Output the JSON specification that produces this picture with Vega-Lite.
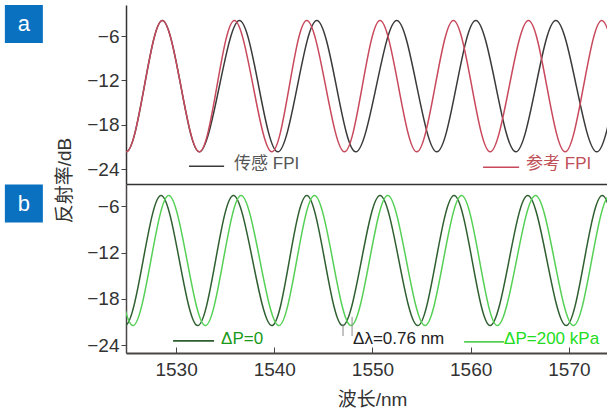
{
  "$schema": "https://vega.github.io/schema/vega-lite/v6.json",
  "padding": {"left": 4, "top": 5, "right": 0, "bottom": 0},
  "bounds": "flush",
  "spacing": 0,
  "background": "white",
  "resolve": {"scale": {"color": "independent"}},
  "config": {
    "view": {"stroke": null},
    "font": "Liberation Sans",
    "axis": {
      "grid": false,
      "labelFont": "Liberation Sans",
      "labelFontSize": 19,
      "labelColor": "#333333",
      "titleFont": "Liberation Sans, Noto Sans CJK SC",
      "titleFontSize": 19,
      "titleFontWeight": "normal",
      "titleColor": "#333333",
      "tickColor": "#444444",
      "domainColor": "#444444"
    }
  },
  "datasets": {
    "curvesA": [
      {"lam": 1523.10, "val": -12.78, "series": "sen"}, {"lam": 1524.93, "val": -21.65, "series": "sen"}, {"lam": 1526.77, "val": -12.78, "series": "sen"}, {"lam": 1528.60, "val": -3.9, "series": "sen"},
      {"lam": 1530.49, "val": -12.78, "series": "sen"}, {"lam": 1532.37, "val": -21.65, "series": "sen"}, {"lam": 1534.41, "val": -12.78, "series": "sen"}, {"lam": 1536.45, "val": -3.9, "series": "sen"},
      {"lam": 1538.41, "val": -12.78, "series": "sen"}, {"lam": 1540.36, "val": -21.65, "series": "sen"}, {"lam": 1542.35, "val": -12.78, "series": "sen"}, {"lam": 1544.33, "val": -3.9, "series": "sen"},
      {"lam": 1546.32, "val": -12.78, "series": "sen"}, {"lam": 1548.30, "val": -21.65, "series": "sen"}, {"lam": 1550.39, "val": -12.78, "series": "sen"}, {"lam": 1552.47, "val": -3.9, "series": "sen"},
      {"lam": 1554.51, "val": -12.78, "series": "sen"}, {"lam": 1556.55, "val": -21.65, "series": "sen"}, {"lam": 1558.54, "val": -12.78, "series": "sen"}, {"lam": 1560.52, "val": -3.9, "series": "sen"},
      {"lam": 1562.56, "val": -12.78, "series": "sen"}, {"lam": 1564.59, "val": -21.65, "series": "sen"}, {"lam": 1566.63, "val": -12.78, "series": "sen"}, {"lam": 1568.67, "val": -3.9, "series": "sen"},
      {"lam": 1570.76, "val": -12.78, "series": "sen"}, {"lam": 1572.84, "val": -21.65, "series": "sen"}, {"lam": 1574.82, "val": -12.78, "series": "sen"},
      {"lam": 1523.10, "val": -12.78, "series": "ref"}, {"lam": 1524.93, "val": -21.65, "series": "ref"}, {"lam": 1526.77, "val": -12.78, "series": "ref"}, {"lam": 1528.60, "val": -3.9, "series": "ref"},
      {"lam": 1530.49, "val": -12.78, "series": "ref"}, {"lam": 1532.37, "val": -21.65, "series": "ref"}, {"lam": 1534.16, "val": -12.78, "series": "ref"}, {"lam": 1535.94, "val": -3.9, "series": "ref"},
      {"lam": 1537.85, "val": -12.78, "series": "ref"}, {"lam": 1539.75, "val": -21.65, "series": "ref"}, {"lam": 1541.53, "val": -12.78, "series": "ref"}, {"lam": 1543.31, "val": -3.9, "series": "ref"},
      {"lam": 1545.23, "val": -12.78, "series": "ref"}, {"lam": 1547.14, "val": -21.65, "series": "ref"}, {"lam": 1548.96, "val": -12.78, "series": "ref"}, {"lam": 1550.77, "val": -3.9, "series": "ref"},
      {"lam": 1552.64, "val": -12.78, "series": "ref"}, {"lam": 1554.51, "val": -21.65, "series": "ref"}, {"lam": 1556.38, "val": -12.78, "series": "ref"}, {"lam": 1558.24, "val": -3.9, "series": "ref"},
      {"lam": 1560.11, "val": -12.78, "series": "ref"}, {"lam": 1561.98, "val": -21.65, "series": "ref"}, {"lam": 1563.93, "val": -12.78, "series": "ref"}, {"lam": 1565.88, "val": -3.9, "series": "ref"},
      {"lam": 1567.75, "val": -12.78, "series": "ref"}, {"lam": 1569.62, "val": -21.65, "series": "ref"}, {"lam": 1571.49, "val": -12.78, "series": "ref"}, {"lam": 1573.35, "val": -3.9, "series": "ref"},
      {"lam": 1575.22, "val": -12.78, "series": "ref"}
    ],
    "curvesB": [
      {"lam": 1523.00, "val": -13.03, "series": "p0"}, {"lam": 1524.80, "val": -21.45, "series": "p0"}, {"lam": 1526.64, "val": -13.03, "series": "p0"}, {"lam": 1528.47, "val": -4.6, "series": "p0"},
      {"lam": 1530.34, "val": -13.03, "series": "p0"}, {"lam": 1532.20, "val": -21.45, "series": "p0"}, {"lam": 1534.02, "val": -13.03, "series": "p0"}, {"lam": 1535.84, "val": -4.6, "series": "p0"},
      {"lam": 1537.80, "val": -13.03, "series": "p0"}, {"lam": 1539.75, "val": -21.45, "series": "p0"}, {"lam": 1541.53, "val": -13.03, "series": "p0"}, {"lam": 1543.31, "val": -4.6, "series": "p0"},
      {"lam": 1545.14, "val": -13.03, "series": "p0"}, {"lam": 1546.97, "val": -21.45, "series": "p0"}, {"lam": 1548.87, "val": -13.03, "series": "p0"}, {"lam": 1550.77, "val": -4.6, "series": "p0"},
      {"lam": 1552.69, "val": -13.03, "series": "p0"}, {"lam": 1554.61, "val": -21.45, "series": "p0"}, {"lam": 1556.46, "val": -13.03, "series": "p0"}, {"lam": 1558.31, "val": -4.6, "series": "p0"},
      {"lam": 1560.15, "val": -13.03, "series": "p0"}, {"lam": 1561.98, "val": -21.45, "series": "p0"}, {"lam": 1563.90, "val": -13.03, "series": "p0"}, {"lam": 1565.81, "val": -4.6, "series": "p0"},
      {"lam": 1567.77, "val": -13.03, "series": "p0"}, {"lam": 1569.72, "val": -21.45, "series": "p0"}, {"lam": 1571.56, "val": -13.03, "series": "p0"}, {"lam": 1573.40, "val": -4.6, "series": "p0"},
      {"lam": 1575.25, "val": -13.03, "series": "p0"},
      {"lam": 1523.80, "val": -13.03, "series": "p200"}, {"lam": 1525.60, "val": -21.45, "series": "p200"}, {"lam": 1527.43, "val": -13.03, "series": "p200"}, {"lam": 1529.25, "val": -4.6, "series": "p200"},
      {"lam": 1531.12, "val": -13.03, "series": "p200"}, {"lam": 1532.98, "val": -21.45, "series": "p200"}, {"lam": 1534.80, "val": -13.03, "series": "p200"}, {"lam": 1536.62, "val": -4.6, "series": "p200"},
      {"lam": 1538.54, "val": -13.03, "series": "p200"}, {"lam": 1540.46, "val": -21.45, "series": "p200"}, {"lam": 1542.28, "val": -13.03, "series": "p200"}, {"lam": 1544.09, "val": -4.6, "series": "p200"},
      {"lam": 1545.96, "val": -13.03, "series": "p200"}, {"lam": 1547.82, "val": -21.45, "series": "p200"}, {"lam": 1549.69, "val": -13.03, "series": "p200"}, {"lam": 1551.55, "val": -4.6, "series": "p200"},
      {"lam": 1553.45, "val": -13.03, "series": "p200"}, {"lam": 1555.35, "val": -21.45, "series": "p200"}, {"lam": 1557.21, "val": -13.03, "series": "p200"}, {"lam": 1559.07, "val": -4.6, "series": "p200"},
      {"lam": 1560.90, "val": -13.03, "series": "p200"}, {"lam": 1562.72, "val": -21.45, "series": "p200"}, {"lam": 1564.66, "val": -13.03, "series": "p200"}, {"lam": 1566.60, "val": -4.6, "series": "p200"},
      {"lam": 1568.53, "val": -13.03, "series": "p200"}, {"lam": 1570.46, "val": -21.45, "series": "p200"}, {"lam": 1572.31, "val": -13.03, "series": "p200"}, {"lam": 1574.16, "val": -4.6, "series": "p200"},
      {"lam": 1576.00, "val": -13.03, "series": "p200"}
    ]
  },
  "vconcat": [
    {
      "width": 481,
      "height": 179,
      "encoding": {
        "x": {"field": "lam", "type": "quantitative", "scale": {"domain": [1524.9, 1573.88], "nice": false, "zero": false},
              "axis": {"title": null, "labels": false, "ticks": false, "domain": true, "domainColor": "#333333", "domainWidth": 1.5}},
        "y": {"field": "val", "type": "quantitative", "scale": {"domain": [-26, -1.8], "nice": false, "zero": false},
              "axis": {"values": [-6, -12, -18, -24], "tickSize": 5, "labelPadding": 2, "domainColor": "#333333", "domainWidth": 1.5,
                       "title": "反射率/dB", "titleX": -62, "titleY": 175, "titleAngle": -90, "titleAlign": "center", "titleBaseline": "middle"}}
      },
      "layer": [
        {
          "data": {"name": "curvesA"},
          "mark": {"type": "line", "interpolate": "natural", "clip": true, "strokeWidth": 1.5},
          "encoding": {
            "color": {"field": "series", "type": "nominal", "scale": {"domain": ["sen", "ref"], "range": ["#3a3a3a", "#c8485c"]}, "legend": null},
            "order": {"field": "lam", "type": "quantitative"}
          }
        },
        {
          "data": {"values": [{}]},
          "mark": {"type": "rule", "color": "#333333", "strokeWidth": 1.5},
          "encoding": {"y": {"datum": -1.8}}
        },
        {
          "data": {"values": [
            {"lam": 1531.32, "lam2": 1534.89, "val": -23.59, "series": "sen"},
            {"lam": 1561.26, "lam2": 1564.93, "val": -23.72, "series": "ref"}
          ]},
          "mark": {"type": "rule", "strokeWidth": 1.5},
          "encoding": {
            "x2": {"field": "lam2"},
            "color": {"field": "series", "type": "nominal", "legend": null}
          }
        },
        {
          "data": {"values": [{"lam": 1535.91, "val": -23.3, "label": "传感 FPI"}]},
          "mark": {"type": "text", "align": "left", "baseline": "middle", "fontSize": 17, "font": "Liberation Sans, Noto Sans CJK SC", "color": "#555555"},
          "encoding": {"text": {"field": "label"}}
        },
        {
          "data": {"values": [{"lam": 1565.64, "val": -23.35, "label": "参考 FPI"}]},
          "mark": {"type": "text", "align": "left", "baseline": "middle", "fontSize": 17, "font": "Liberation Sans, Noto Sans CJK SC", "color": "#c05058"},
          "encoding": {"text": {"field": "label"}}
        },
        {
          "data": {"values": [{"lam": 1514.5, "val": -4.37, "label": "a"}]},
          "mark": {"type": "point", "shape": "square", "size": 1444, "filled": true, "color": "#0a70c0", "opacity": 1, "strokeWidth": 0}
        },
        {
          "data": {"values": [{"lam": 1514.5, "val": -4.37, "label": "a"}]},
          "mark": {"type": "text", "align": "center", "baseline": "middle", "fontSize": 22, "color": "white"},
          "encoding": {"text": {"field": "label"}}
        }
      ]
    },
    {
      "width": 481,
      "height": 169,
      "encoding": {
        "x": {"field": "lam", "type": "quantitative", "scale": {"domain": [1524.9, 1573.88], "nice": false, "zero": false},
              "axis": {"values": [1530, 1540, 1550, 1560, 1570], "format": "d", "tickSize": -6, "labelPadding": 13.8, "domainColor": "#4a4444", "domainWidth": 2, "tickColor": "#4a4444",
                       "title": "波长/nm", "titleX": 246, "titleY": 46, "titleBaseline": "middle", "titleAlign": "center"}},
        "y": {"field": "val", "type": "quantitative", "scale": {"domain": [-25, -3.1], "nice": false, "zero": false},
              "axis": {"values": [-6, -12, -18, -24], "tickSize": 5, "labelPadding": 2, "domainColor": "#4a4444", "domainWidth": 1.5, "title": null}}
      },
      "layer": [
        {
          "data": {"name": "curvesB"},
          "mark": {"type": "line", "interpolate": "natural", "clip": true, "strokeWidth": 1.5},
          "encoding": {
            "color": {"field": "series", "type": "nominal", "scale": {"domain": ["p0", "p200"], "range": ["#2f5f30", "#55d055"]}, "legend": null},
            "order": {"field": "lam", "type": "quantitative"}
          }
        },
        {
          "data": {"values": [
            {"lam": 1547.0, "val": -21.24, "val2": -22.79},
            {"lam": 1547.92, "val": -20.33, "val2": -22.79}
          ]},
          "mark": {"type": "rule", "strokeWidth": 1, "color": "#888888"},
          "encoding": {"y2": {"field": "val2"}}
        },
        {
          "data": {"values": [
            {"lam": 1529.69, "lam2": 1533.87, "val": -23.44, "series": "p0"},
            {"lam": 1559.33, "lam2": 1563.40, "val": -23.57, "series": "p200"}
          ]},
          "mark": {"type": "rule", "strokeWidth": 1.8},
          "encoding": {
            "x2": {"field": "lam2"},
            "color": {"field": "series", "type": "nominal", "legend": null}
          }
        },
        {
          "data": {"values": [{"lam": 1534.58, "val": -23.18, "label": "ΔP=0"}]},
          "mark": {"type": "text", "align": "left", "baseline": "middle", "fontSize": 17, "color": "#1a9a1a"},
          "encoding": {"text": {"field": "label"}}
        },
        {
          "data": {"values": [{"lam": 1548.02, "val": -23.18, "label": "Δλ=0.76 nm"}]},
          "mark": {"type": "text", "align": "left", "baseline": "middle", "fontSize": 17, "color": "#222222"},
          "encoding": {"text": {"field": "label"}}
        },
        {
          "data": {"values": [{"lam": 1563.4, "val": -23.18, "label": "ΔP=200 kPa"}]},
          "mark": {"type": "text", "align": "left", "baseline": "middle", "fontSize": 17, "color": "#22dd22"},
          "encoding": {"text": {"field": "label"}}
        },
        {
          "data": {"values": [{"lam": 1514.5, "val": -5.63, "label": "b"}]},
          "mark": {"type": "point", "shape": "square", "size": 1444, "filled": true, "color": "#0a70c0", "opacity": 1, "strokeWidth": 0}
        },
        {
          "data": {"values": [{"lam": 1514.5, "val": -5.63, "label": "b"}]},
          "mark": {"type": "text", "align": "center", "baseline": "middle", "fontSize": 22, "color": "white"},
          "encoding": {"text": {"field": "label"}}
        }
      ]
    }
  ]
}
